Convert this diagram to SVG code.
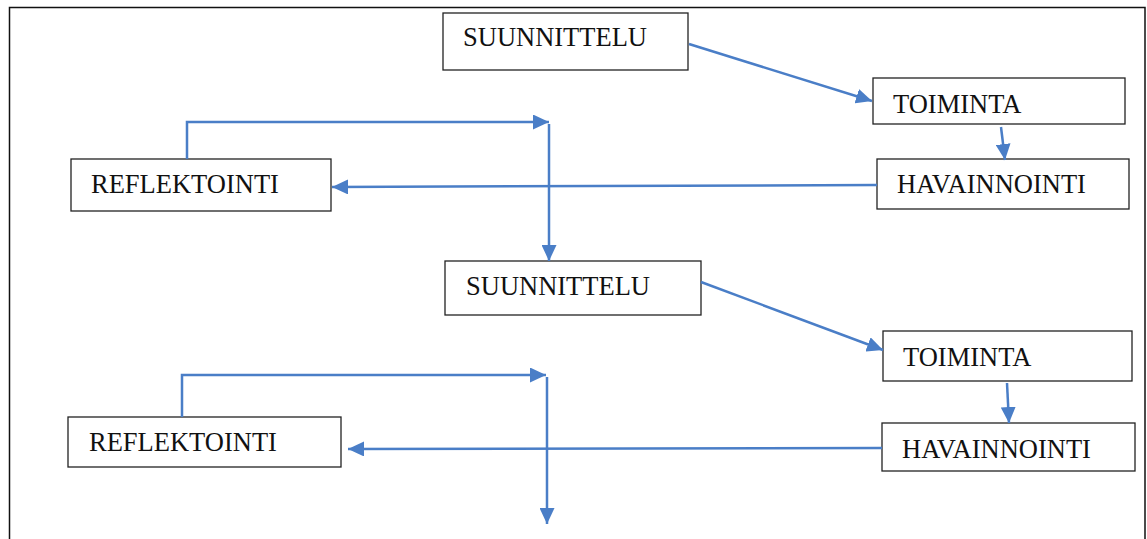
<svg xmlns="http://www.w3.org/2000/svg" width="1147" height="539" viewBox="0 0 1147 539">
<defs>
<marker id="ah" markerUnits="userSpaceOnUse" markerWidth="17" markerHeight="15" refX="16" refY="7.5" orient="auto">
<path d="M0,0 L16,7.5 L0,15 Z" fill="#4A7EC7"/>
</marker>
<style>
.box{fill:#fff;stroke:#222;stroke-width:1.3}
.t{font-family:"Liberation Serif","Times New Roman",serif;font-size:26.5px;fill:#111}
.c{fill:none;stroke:#4A7EC7;stroke-width:2.5}
.a{marker-end:url(#ah)}
</style>
</defs>
<rect width="1147" height="539" fill="#fff"/>
<path d="M9.5,540 V7.5 H1145 V540" fill="none" stroke="#111" stroke-width="1.5"/>
<g id="n1"><rect class="box" x="443" y="13" width="245" height="57"/><text class="t" x="463" y="46">SUUNNITTELU</text></g>
<g id="n2"><rect class="box" x="873" y="78" width="252" height="46"/><text class="t" x="893" y="113">TOIMINTA</text></g>
<g id="n3"><rect class="box" x="877" y="159" width="252" height="50"/><text class="t" x="897" y="193">HAVAINNOINTI</text></g>
<g id="n4"><rect class="box" x="71" y="159" width="260" height="52"/><text class="t" x="91" y="193">REFLEKTOINTI</text></g>
<g id="n5"><rect class="box" x="445" y="261" width="256" height="54"/><text class="t" x="466" y="295">SUUNNITTELU</text></g>
<g id="n6"><rect class="box" x="883" y="331" width="249" height="50"/><text class="t" x="903" y="366">TOIMINTA</text></g>
<g id="n7"><rect class="box" x="882" y="423" width="253" height="48"/><text class="t" x="902" y="458">HAVAINNOINTI</text></g>
<g id="n8"><rect class="box" x="68" y="417" width="273" height="50"/><text class="t" x="89" y="451">REFLEKTOINTI</text></g>
<g id="connectors">
<line class="c a" x1="689" y1="44" x2="872" y2="101"/>
<line class="c a" x1="1001" y1="127" x2="1005" y2="160"/>
<line class="c a" x1="877" y1="185" x2="332" y2="187"/>
<polyline class="c a" points="187,159 187,122 549,122"/>
<line class="c a" x1="549" y1="124" x2="549" y2="261"/>
<line class="c a" x1="701" y1="282" x2="883" y2="350"/>
<line class="c a" x1="1007" y1="383" x2="1009" y2="423"/>
<line class="c a" x1="882" y1="448" x2="348" y2="449"/>
<polyline class="c a" points="182,417 182,375 546,375"/>
<line class="c a" x1="547" y1="377" x2="547" y2="524"/>
</g>
</svg>
